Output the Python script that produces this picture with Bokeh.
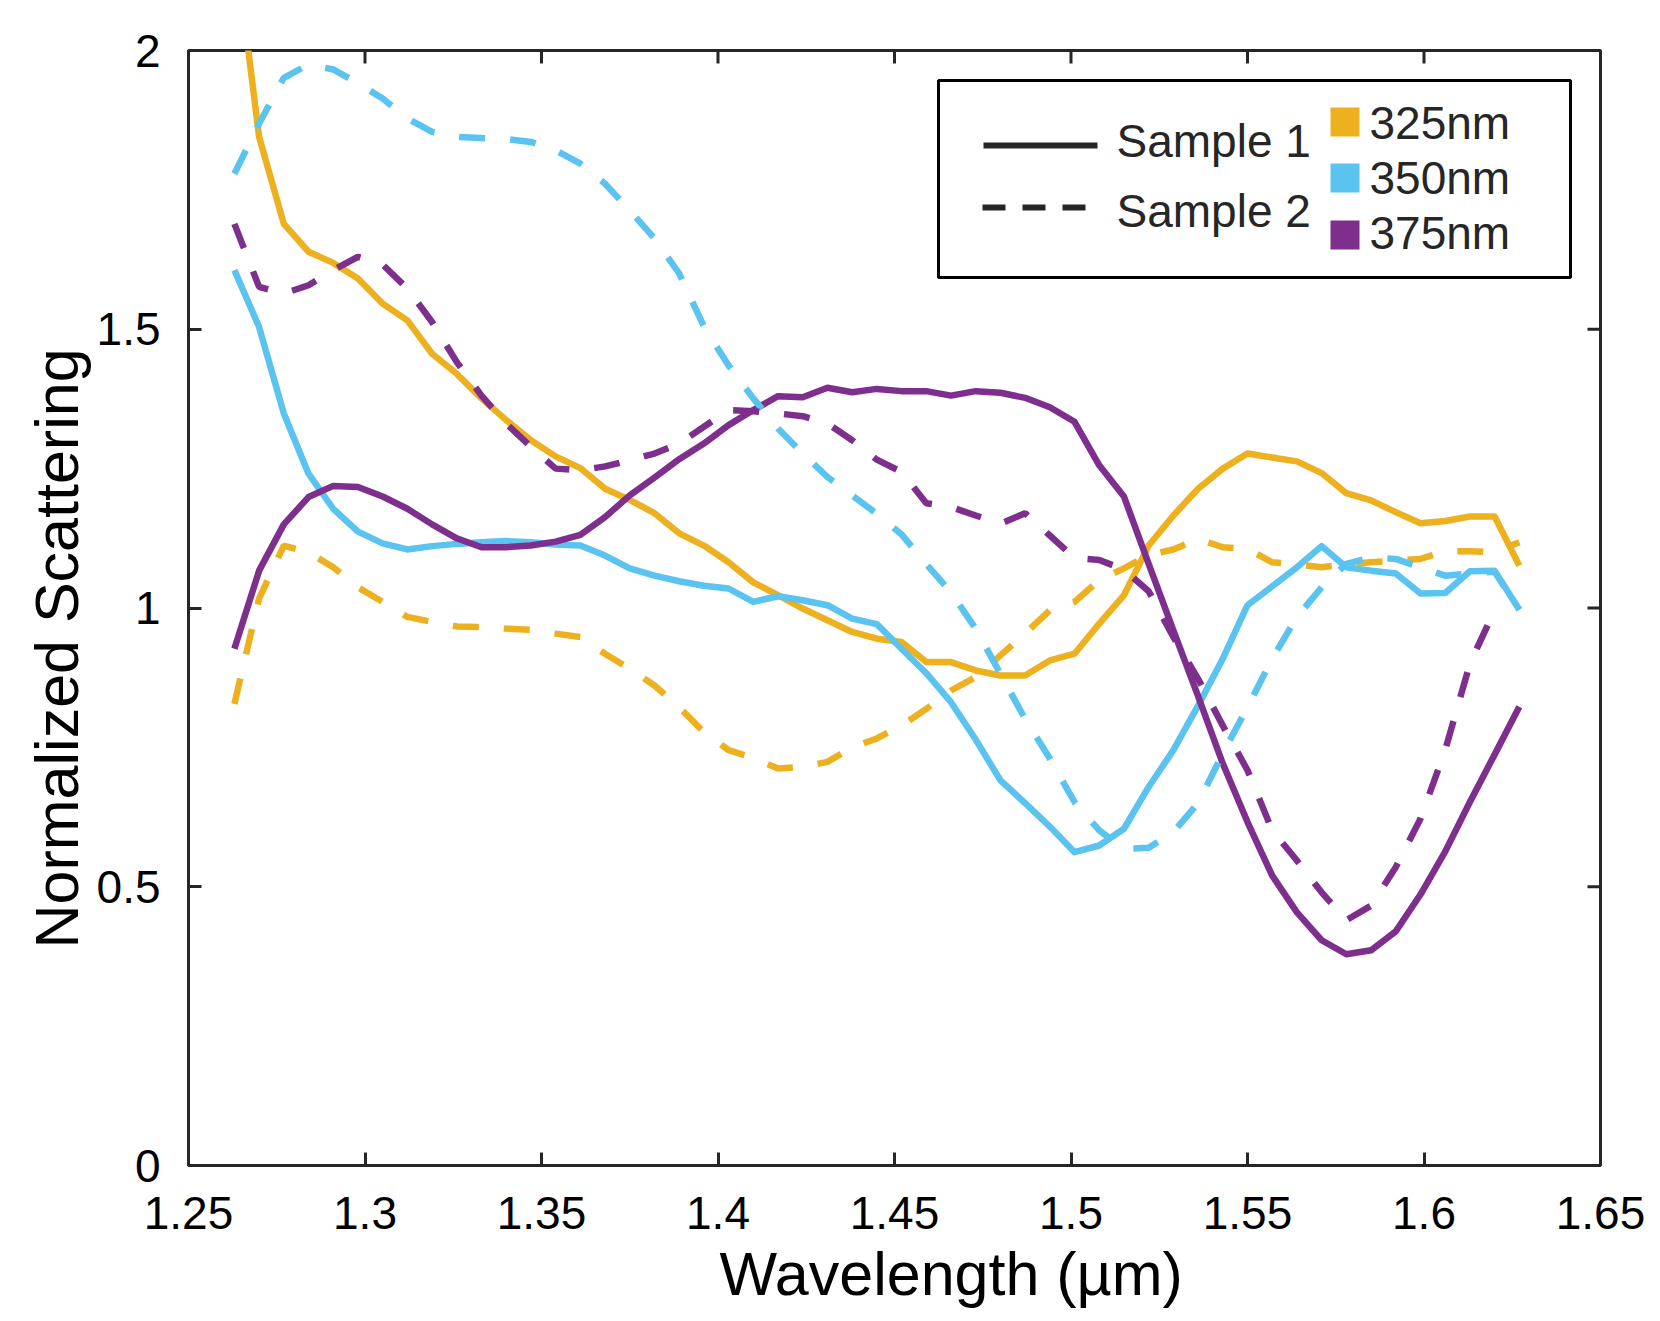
from bokeh.plotting import figure
from bokeh.models import FixedTicker, Range1d, Title
from bokeh.core.properties import value
from bokeh.embed import file_html
from bokeh.resources import INLINE

# ---------------- data ----------------
wavelength = [1.263, 1.270, 1.277, 1.284, 1.291, 1.298, 1.305, 1.312, 1.319, 1.326,
              1.333, 1.340, 1.347, 1.354, 1.361, 1.368, 1.375, 1.382, 1.389, 1.396,
              1.403, 1.410, 1.417, 1.424, 1.431, 1.438, 1.445, 1.452, 1.459, 1.466,
              1.473, 1.480, 1.487, 1.494, 1.501, 1.508, 1.515, 1.522, 1.529, 1.536,
              1.543, 1.550, 1.557, 1.564, 1.571, 1.578, 1.585, 1.592, 1.599, 1.606,
              1.613, 1.620, 1.627]

sample1_325 = [2.200, 1.845, 1.689, 1.639, 1.619, 1.591, 1.546, 1.516, 1.456, 1.420,
               1.376, 1.337, 1.301, 1.272, 1.251, 1.214, 1.194, 1.170, 1.134, 1.112,
               1.082, 1.046, 1.023, 0.999, 0.978, 0.957, 0.945, 0.939, 0.903, 0.903,
               0.888, 0.879, 0.879, 0.906, 0.918, 0.972, 1.023, 1.112, 1.166, 1.214,
               1.250, 1.277, 1.270, 1.263, 1.242, 1.206, 1.193, 1.172, 1.152, 1.156,
               1.164, 1.164, 1.076]
sample1_350 = [1.606, 1.504, 1.349, 1.241, 1.178, 1.137, 1.116, 1.105, 1.111, 1.115,
               1.118, 1.120, 1.118, 1.114, 1.112, 1.094, 1.071, 1.058, 1.048, 1.040,
               1.035, 1.011, 1.021, 1.014, 1.005, 0.981, 0.971, 0.927, 0.883, 0.831,
               0.764, 0.691, 0.650, 0.608, 0.562, 0.574, 0.604, 0.679, 0.745, 0.825,
               0.909, 1.005, 1.039, 1.073, 1.111, 1.073, 1.067, 1.062, 1.026, 1.027,
               1.066, 1.067, 0.997]
sample1_375 = [0.927, 1.067, 1.150, 1.199, 1.219, 1.217, 1.200, 1.178, 1.150, 1.125,
               1.109, 1.109, 1.112, 1.119, 1.131, 1.163, 1.202, 1.234, 1.267, 1.295,
               1.328, 1.355, 1.380, 1.378, 1.395, 1.387, 1.393, 1.389, 1.389, 1.381,
               1.389, 1.386, 1.377, 1.360, 1.334, 1.256, 1.200, 1.079, 0.960, 0.842,
               0.721, 0.616, 0.520, 0.454, 0.404, 0.379, 0.386, 0.420, 0.486, 0.563,
               0.652, 0.737, 0.823]

sample2_325 = [0.828, 1.017, 1.112, 1.100, 1.073, 1.037, 1.011, 0.984, 0.975, 0.967,
               0.966, 0.963, 0.961, 0.954, 0.948, 0.918, 0.891, 0.861, 0.822, 0.777,
               0.745, 0.731, 0.712, 0.715, 0.724, 0.750, 0.766, 0.789, 0.819, 0.852,
               0.876, 0.915, 0.954, 0.996, 1.011, 1.050, 1.071, 1.095, 1.105, 1.124,
               1.109, 1.106, 1.082, 1.078, 1.073, 1.079, 1.082, 1.085, 1.088, 1.102,
               1.102, 1.100, 1.118]
sample2_350 = [1.779, 1.869, 1.951, 1.975, 1.966, 1.941, 1.914, 1.878, 1.854, 1.845,
               1.843, 1.841, 1.836, 1.821, 1.797, 1.761, 1.713, 1.663, 1.600, 1.505,
               1.435, 1.376, 1.322, 1.277, 1.235, 1.202, 1.169, 1.132, 1.079, 1.028,
               0.963, 0.882, 0.801, 0.730, 0.652, 0.601, 0.568, 0.570, 0.598, 0.650,
               0.739, 0.822, 0.909, 0.984, 1.037, 1.079, 1.091, 1.088, 1.073, 1.058,
               1.062, 1.065, 0.997]
sample2_375 = [1.689, 1.576, 1.564, 1.579, 1.606, 1.630, 1.616, 1.573, 1.513, 1.441,
               1.381, 1.331, 1.289, 1.250, 1.247, 1.254, 1.265, 1.277, 1.295, 1.325,
               1.355, 1.353, 1.349, 1.344, 1.331, 1.301, 1.266, 1.244, 1.188, 1.181,
               1.166, 1.151, 1.170, 1.130, 1.090, 1.086, 1.069, 1.030, 0.948, 0.873,
               0.789, 0.709, 0.601, 0.547, 0.490, 0.440, 0.466, 0.535, 0.622, 0.745,
               0.900, 0.996]

x_ticks = [1.25, 1.3, 1.35, 1.4, 1.45, 1.5, 1.55, 1.6, 1.65]
x_tick_labels = ["1.25", "1.3", "1.35", "1.4", "1.45", "1.5", "1.55", "1.6", "1.65"]
y_ticks = [0, 0.5, 1, 1.5, 2]
y_tick_labels = ["0", "0.5", "1", "1.5", "2"]

sample_names = ["Sample 1", "Sample 2"]
size_names = ["325nm", "350nm", "375nm"]
size_colors = ["#EDB120", "#5BC3EF", "#7E2F8E"]

x_title = "Wavelength (µm)"
y_title = "Normalized Scattering"

# ---------------- layout ----------------
FONT = "Liberation Sans"
W, H = 1660, 1321
BL, BR, BT, BB = 188, 60, 50, 156
FW, FH = W - BL - BR, H - BT - BB
X0, X1, Y0, Y1 = 1.25, 1.65, 0.0, 2.0
AX = "#262626"
TICK = 13

p = figure(width=W, height=H, x_range=Range1d(X0, X1), y_range=Range1d(Y0, Y1),
           output_backend="svg", toolbar_location=None,
           min_border_left=BL, min_border_right=BR, min_border_top=BT, min_border_bottom=BB)
p.xgrid.visible = False
p.ygrid.visible = False
p.outline_line_color = AX
p.outline_line_width = 3
p.background_fill_color = "white"
p.border_fill_color = "white"


def px_x(px):
    # canvas pixel -> data x
    return X0 + (px - BL) / FW * (X1 - X0)


def px_y(py):
    return Y0 + (BT + FH - py) / FH * (Y1 - Y0)


def style_axis(ax, ticks, labels, standoff):
    ax.ticker = FixedTicker(ticks=ticks)
    ax.axis_line_color = AX
    ax.axis_line_width = 3
    ax.major_tick_line_color = AX
    ax.major_tick_line_width = 3
    ax.major_tick_in = TICK
    ax.major_tick_out = 0
    ax.minor_tick_line_color = None
    ax.major_label_overrides = {t: l for t, l in zip(ticks, labels)}
    ax.major_label_text_font = FONT
    ax.major_label_text_font_size = "46px"
    ax.major_label_text_color = "black"
    ax.major_label_standoff = standoff


style_axis(p.xaxis[0], x_ticks, x_tick_labels, 31)
style_axis(p.yaxis[0], y_ticks, y_tick_labels, 28)

# inward ticks on the top and right edges of the box
tdy = TICK / FH * (Y1 - Y0)
tdx = TICK / FW * (X1 - X0)
inner_x = x_ticks[1:-1]
inner_y = y_ticks[1:-1]
p.segment(x0=inner_x, y0=[Y1] * len(inner_x), x1=inner_x, y1=[Y1 - tdy] * len(inner_x),
          line_color=AX, line_width=3)
p.segment(x0=[X1] * len(inner_y), y0=inner_y, x1=[X1 - tdx] * len(inner_y), y1=inner_y,
          line_color=AX, line_width=3)

# ---------------- data lines ----------------
LW = 6.5
DASH = "26 25"
for ys, c in zip([sample1_325, sample1_350, sample1_375], size_colors):
    p.line(wavelength[:len(ys)], ys, line_color=c, line_width=LW, line_join="round")
for ys, c in zip([sample2_325, sample2_350, sample2_375], size_colors):
    p.line(wavelength[:len(ys)], ys, line_color=c, line_width=LW, line_dash=DASH)

# ---------------- legend (drawn by hand to match the two-column layout) ----------------
TXT_FIX = 18  # baseline correction for text glyphs
p.quad(left=[px_x(938)], right=[px_x(1570)], top=[px_y(80)], bottom=[px_y(277)],
       fill_color="white", line_color="black", line_width=3)
p.line([px_x(983), px_x(1097)], [px_y(145), px_y(145)], line_color=AX, line_width=6)
p.line([px_x(982), px_x(1086)], [px_y(207), px_y(207)], line_color=AX, line_width=6,
       line_dash="23 17")
p.text(x=[px_x(1116), px_x(1116)], y=[px_y(158 - TXT_FIX), px_y(228 - TXT_FIX)],
       text=sample_names, text_font=value(FONT), text_font_size=value("46px"),
       text_color=AX, text_baseline="alphabetic", text_align="left")
sq_tops = [107, 163, 220]
p.quad(left=[px_x(1330)] * 3, right=[px_x(1359)] * 3,
       top=[px_y(t) for t in sq_tops], bottom=[px_y(t + 29) for t in sq_tops],
       fill_color=size_colors, line_color=None)
p.text(x=[px_x(1369)] * 3, y=[px_y(140 - TXT_FIX), px_y(195 - TXT_FIX), px_y(250 - TXT_FIX)],
       text=size_names, text_font=value(FONT), text_font_size=value("46px"),
       text_color=AX, text_baseline="alphabetic", text_align="left")

# ---------------- axis titles ----------------
p.add_layout(Title(text=y_title, align="left", offset=217, vertical_align="bottom",
                   standoff=6, text_font=FONT, text_font_size="61px",
                   text_font_style="normal", text_color="black"), "left")
p.add_layout(Title(text=x_title, align="left", offset=531, vertical_align="bottom",
                   standoff=12, text_font=FONT, text_font_size="61px",
                   text_font_style="normal", text_color="black"), "below")

open("out.html", "w").write(file_html(p, INLINE))
